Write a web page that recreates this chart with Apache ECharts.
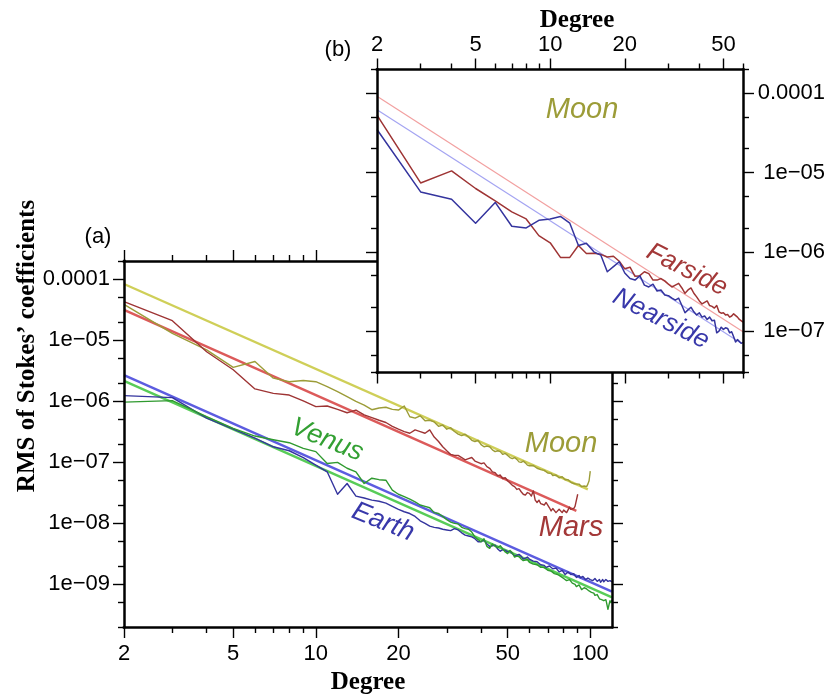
<!DOCTYPE html>
<html><head><meta charset="utf-8">
<script src="https://cdn.jsdelivr.net/npm/echarts@6/dist/echarts.min.js"></script>
<style>html,body{margin:0;padding:0;background:#fff}#c{width:829px;height:695px}</style>
</head><body><div id="c"></div>
<script>
// spherical-harmonic degrees (integer categories) for each curve
function degreeList(first, last) { const r = []; for (let d = first; d <= last; d++) r.push(d); return r; }

// ---------------- data: panel (a) ----------------
const moonDeg = degreeList(2, 100);
const moonVal = [3.9e-5,1.3e-5,7.0e-6,3.6e-6,4.5e-6,2.4e-6,2.1e-6,2.2e-6,2.1e-6,1.75e-6,1.45e-6,1.2e-6,1.0e-6,8.7e-7,7.3e-7,7.8e-7,8.0e-7,7.4e-7,7.2e-7,8.4e-7,5.6e-7,5.3e-7,5.8e-7,4.8e-7,4.9e-7,4.6e-7,3.9e-7,4.1e-7,3.5e-7,
  3.7e-7,3.2e-7,2.9e-7,2.75e-7,2.9e-7,2.6e-7,2.3e-7,2.2e-7,2.3e-7,1.95e-7,
  1.8e-7,1.85e-7,1.8e-7,1.6e-7,1.5e-7,1.55e-7,1.5e-7,1.35e-7,1.4e-7,1.3e-7,
  1.2e-7,1.15e-7,1.2e-7,1.12e-7,1.02e-7,1.0e-7,1.05e-7,9.8e-8,9.0e-8,8.8e-8,
  8.4e-8,8.9e-8,8.4e-8,8.0e-8,7.9e-8,7.6e-8,7.2e-8,7.4e-8,7.1e-8,6.7e-8,
  6.9e-8,6.6e-8,6.1e-8,6.0e-8,6.2e-8,6.1e-8,5.6e-8,5.5e-8,5.8e-8,5.5e-8,
  5.2e-8,5.0e-8,5.2e-8,4.9e-8,4.7e-8,4.5e-8,4.5e-8,4.6e-8,4.4e-8,4.2e-8,
  4.4e-8,4.3e-8,4.0e-8,3.8e-8,4.1e-8,4.2e-8,4.0e-8,4.4e-8,5.0e-8,7.2e-8];

const marsDeg = degreeList(2, 90);
const marsVal = [4.3e-5,2.1e-5,6.5e-6,3.3e-6,1.6e-6,1.35e-6,1.27e-6,1.02e-6,8.2e-7,8.4e-7,7.4e-7,6.5e-7,7.2e-7,6.0e-7,5.4e-7,4.9e-7,4.5e-7,3.9e-7,3.5e-7,3.2e-7,3.0e-7,3.4e-7,3.2e-7,3.0e-7,3.4e-7,2.6e-7,2.2e-7,1.8e-7,1.55e-7,
  1.35e-7,1.3e-7,1.3e-7,1.2e-7,1.1e-7,1.15e-7,1.2e-7,1.05e-7,1.0e-7,9.5e-8,
  9.8e-8,8.5e-8,8.0e-8,7.0e-8,6.8e-8,6.0e-8,6.2e-8,5.4e-8,5.6e-8,5.0e-8,
  4.6e-8,4.2e-8,4.0e-8,3.6e-8,3.7e-8,3.3e-8,3.0e-8,2.9e-8,3.2e-8,3.1e-8,
  2.8e-8,3.4e-8,2.4e-8,2.2e-8,2.4e-8,2.1e-8,2.0e-8,2.0e-8,2.2e-8,2.1e-8,
  1.8e-8,1.6e-8,1.75e-8,1.7e-8,1.5e-8,1.55e-8,1.7e-8,1.8e-8,1.5e-8,1.65e-8,
  1.75e-8,1.5e-8,1.55e-8,1.85e-8,1.7e-8,1.6e-8,1.75e-8,1.9e-8,2.0e-8,3.0e-8];

const earthDeg = degreeList(2, 120);
const earthVal = [1.24e-6,1.15e-6,5.3e-7,3.5e-7,2.5e-7,1.8e-7,1.55e-7,1.2e-7,9.0e-8,7.0e-8,3.0e-8,4.5e-8,2.8e-8,2.6e-8,2.4e-8,2.3e-8,2.15e-8,1.9e-8,1.7e-8,1.55e-8,1.45e-8,1.3e-8,1.1e-8,1.0e-8,9.0e-9,8.6e-9,8.4e-9,8.0e-9,7.8e-9,
  7.6e-9,8.2e-9,7.8e-9,7.0e-9,6.4e-9,6.2e-9,6.0e-9,5.6e-9,5.0e-9,5.0e-9,
  5.3e-9,4.6e-9,4.2e-9,4.3e-9,4.4e-9,3.8e-9,3.5e-9,3.7e-9,3.6e-9,3.4e-9,
  3.5e-9,3.2e-9,2.9e-9,3.0e-9,3.1e-9,2.9e-9,2.6e-9,2.7e-9,2.8e-9,2.6e-9,
  2.45e-9,2.4e-9,2.25e-9,2.35e-9,2.3e-9,2.1e-9,2.15e-9,2.05e-9,1.9e-9,1.95e-9,
  2.0e-9,1.9e-9,1.8e-9,1.75e-9,1.85e-9,1.75e-9,1.6e-9,1.65e-9,1.7e-9,1.6e-9,
  1.45e-9,1.5e-9,1.6e-9,1.55e-9,1.45e-9,1.4e-9,1.5e-9,1.45e-9,1.3e-9,1.35e-9,
  1.4e-9,1.28e-9,1.25e-9,1.35e-9,1.3e-9,1.2e-9,1.18e-9,1.27e-9,1.3e-9,1.2e-9,
  1.22e-9,1.15e-9,1.1e-9,1.25e-9,1.18e-9,1.12e-9,1.2e-9,1.2e-9,1.08e-9,1.15e-9,
  1.2e-9,1.1e-9,1.1e-9,1.2e-9,1.15e-9,1.12e-9,1.2e-9,1.15e-9,1.12e-9,1.1e-9];

const venusDeg = degreeList(2, 120);
const venusVal = [9.7e-7,1.03e-6,5.6e-7,3.6e-7,2.7e-7,2.35e-7,2.1e-7,1.7e-7,1.5e-7,9.6e-8,1.0e-7,8.0e-8,7.0e-8,4.5e-8,5.5e-8,5.2e-8,5.1e-8,3.5e-8,3.0e-8,2.75e-8,2.5e-8,2.25e-8,2.0e-8,1.9e-8,1.8e-8,1.5e-8,1.45e-8,1.3e-8,1.15e-8,
  1.05e-8,1.0e-8,9.8e-9,8.6e-9,8.2e-9,8.0e-9,7.2e-9,6.0e-9,5.4e-9,5.0e-9,
  5.6e-9,4.2e-9,3.9e-9,4.6e-9,4.2e-9,4.0e-9,4.3e-9,3.8e-9,3.4e-9,3.2e-9,
  3.6e-9,3.3e-9,2.8e-9,2.9e-9,2.85e-9,2.6e-9,2.45e-9,2.5e-9,2.6e-9,2.3e-9,
  2.35e-9,2.15e-9,2.0e-9,2.1e-9,2.05e-9,1.9e-9,1.8e-9,1.9e-9,1.85e-9,1.7e-9,
  1.6e-9,1.65e-9,1.7e-9,1.5e-9,1.4e-9,1.45e-9,1.45e-9,1.35e-9,1.3e-9,1.25e-9,
  1.3e-9,1.15e-9,1.1e-9,1.2e-9,1.12e-9,1.05e-9,1.05e-9,1.0e-9,9.2e-10,9.6e-10,
  9.8e-10,9.0e-10,8.2e-10,8.5e-10,8.8e-10,9.0e-10,8.4e-10,7.9e-10,7.8e-10,7.6e-10,
  7.4e-10,7.1e-10,7.2e-10,6.6e-10,6.2e-10,6.8e-10,6.4e-10,5.8e-10,6.0e-10,5.6e-10,
  5.2e-10,5.4e-10,5.8e-10,5.6e-10,5.2e-10,3.9e-10,4.6e-10,5.4e-10,5.0e-10,5.6e-10];

// power-law fits (end points)
const moonFitDeg = [2, 98],  moonFitVal = [8.4e-5, 3.6e-8];
const marsFitDeg = [2, 89],  marsFitVal = [3.15e-5, 1.6e-8];
const earthFitDeg = [2, 120], earthFitVal = [2.7e-6, 7.6e-10];
const venusFitDeg = [2, 120], venusFitVal = [2.16e-6, 6.1e-10];

// ---------------- data: panel (b) ----------------
const sideDeg = degreeList(2, 60);
const farVal = [5.3e-5,7.4e-6,1.05e-5,6.3e-6,4.4e-6,3.2e-6,2.6e-6,1.6e-6,1.3e-6,8.5e-7,8.5e-7,1.2e-6,9.5e-7,9.6e-7,9.3e-7,8.6e-7,8.8e-7,7.6e-7,6.1e-7,6.4e-7,4.9e-7,5.0e-7,5.6e-7,5.3e-7,4.4e-7,4.4e-7,4.6e-7,4.3e-7,3.9e-7,3.6e-7,
  3.8e-7,4.0e-7,3.5e-7,3.0e-7,3.3e-7,3.5e-7,3.0e-7,2.7e-7,2.4e-7,2.2e-7,2.3e-7,2.4e-7,2.1e-7,2.05e-7,1.95e-7,2.1e-7,1.75e-7,1.68e-7,1.7e-7,1.6e-7,1.62e-7,1.5e-7,1.55e-7,1.65e-7,1.7e-7,1.5e-7,1.4e-7,1.35e-7,1.3e-7];
const nearVal = [3.5e-5,5.7e-6,4.6e-6,2.3e-6,4.2e-6,2.1e-6,2.0e-6,2.5e-6,2.6e-6,2.8e-6,2.3e-6,1.2e-6,1.28e-6,1.0e-6,9.1e-7,5.6e-7,6.5e-7,7.5e-7,5.4e-7,4.6e-7,4.4e-7,5.0e-7,3.8e-7,3.6e-7,3.9e-7,3.2e-7,3.3e-7,2.85e-7,2.8e-7,2.6e-7,
  2.45e-7,2.6e-7,2.1e-7,1.7e-7,1.85e-7,2.0e-7,1.75e-7,1.6e-7,1.7e-7,1.5e-7,1.55e-7,1.4e-7,1.5e-7,1.35e-7,1.37e-7,9.5e-8,1.0e-7,1.12e-7,1.05e-7,1.1e-7,1.08e-7,9.5e-8,9.8e-8,8.5e-8,7.3e-8,7.8e-8,7.7e-8,7.0e-8,7.2e-8];
const farFitDeg = [2, 60],  farFitVal = [9.2e-5, 9.8e-8];
const nearFitDeg = [2, 59], nearFitVal = [6.2e-5, 7.0e-8];

// ---------------- ticks ----------------
const xTickA = [2,5,10,20,50,100];
const xMinorA = [3,4,6,7,8,9,30,40,60,70,80,90];
const yTickA = [1e-9,1e-8,1e-7,1e-6,1e-5,1e-4];
const yLabelA = ['1e\u221209','1e\u221208','1e\u221207','1e\u221206','1e\u221205','0.0001'];
const yMinorA = [2e-10,5e-10,2e-9,5e-9,2e-8,5e-8,2e-7,5e-7,2e-6,5e-6,2e-5,5e-5,2e-4];
const xTickB = [2,5,10,20,50];
const xMinorB = [3,4,6,7,8,9,30,40,60];
const yTickB = [1e-7,1e-6,1e-5,1e-4];
const yLabelB = ['1e\u221207','1e\u221206','1e\u221205','0.0001'];
const yMinorB = [3e-8,5e-8,2e-7,5e-7,2e-6,5e-6,2e-5,5e-5,2e-4];

// ---------------- chart ----------------
const chart = echarts.init(document.getElementById('c'), null, {renderer:'canvas'});
const SANS = '"Liberation Sans", Arial, Helvetica, sans-serif';
const SERIF = '"Liberation Serif", "Times New Roman", serif';

function yFmt(ticks, labels) {
  return function (v) {
    const i = ticks.findIndex(t => Math.abs(Math.log10(v) - Math.log10(t)) < 1e-6);
    return i >= 0 ? labels[i] : '';
  };
}
function xFmt(v) { return String(Math.round(v)); }

function axis(o) {
  return {
    type: 'log', logBase: 10, gridIndex: o.grid, position: o.pos, min: o.min, max: o.max, z: o.z,
    axisLine: o.line ? {show: true, onZero: false, lineStyle: {color: '#000', width: 2.5, cap: 'square'}} : {show: false, onZero: false},
    axisTick: {show: true, inside: false, length: o.len, customValues: o.ticks, lineStyle: {color: '#000', width: 1.4}},
    axisLabel: o.fmt ? {show: true, customValues: o.ticks, formatter: o.fmt, margin: o.margin, align: o.align,
      color: '#000', fontSize: 22, fontFamily: SANS} : {show: false},
    splitLine: {show: false}, minorTick: {show: false}, minorSplitLine: {show: false},
    name: o.name || '', nameLocation: 'middle', nameGap: o.nameGap || 0,
    nameTextStyle: {fontFamily: SERIF, fontWeight: 'bold', fontSize: 25, color: '#000', padding: o.namePad || 0},
    silent: true
  };
}

const AZ = 3, BZ = 12;
const xAxes = [
  axis({grid:0,pos:'bottom',min:2,max:120,z:AZ,line:true,len:11,ticks:xTickA,fmt:xFmt,margin:16,name:'Degree',nameGap:40}),
  axis({grid:0,pos:'bottom',min:2,max:120,z:AZ,line:false,len:6,ticks:xMinorA}),
  axis({grid:0,pos:'top',min:2,max:120,z:AZ,line:true,len:11,ticks:xTickA}),
  axis({grid:0,pos:'top',min:2,max:120,z:AZ,line:false,len:6,ticks:xMinorA}),
  axis({grid:1,pos:'top',min:2,max:60,z:BZ,line:true,len:11,ticks:xTickB,fmt:xFmt,margin:14,name:'Degree',nameGap:36,namePad:[0,0,0,34]}),
  axis({grid:1,pos:'top',min:2,max:60,z:BZ,line:false,len:6,ticks:xMinorB}),
  axis({grid:1,pos:'bottom',min:2,max:60,z:BZ,line:true,len:11,ticks:xTickB}),
  axis({grid:1,pos:'bottom',min:2,max:60,z:BZ,line:false,len:6,ticks:xMinorB})
];
const yAxes = [
  axis({grid:0,pos:'left',min:2e-10,max:2e-4,z:AZ,line:true,len:11,ticks:yTickA,fmt:yFmt(yTickA,yLabelA),margin:14}),
  axis({grid:0,pos:'left',min:2e-10,max:2e-4,z:AZ,line:false,len:6,ticks:yMinorA}),
  axis({grid:0,pos:'right',min:2e-10,max:2e-4,z:AZ,line:true,len:11,ticks:yTickA}),
  axis({grid:0,pos:'right',min:2e-10,max:2e-4,z:AZ,line:false,len:6,ticks:yMinorA}),
  axis({grid:1,pos:'right',min:3e-8,max:2e-4,z:BZ,line:true,len:11,ticks:yTickB,fmt:yFmt(yTickB,yLabelB),margin:82,align:'right'}),
  axis({grid:1,pos:'right',min:3e-8,max:2e-4,z:BZ,line:false,len:6,ticks:yMinorB}),
  axis({grid:1,pos:'left',min:3e-8,max:2e-4,z:BZ,line:true,len:11,ticks:yTickB}),
  axis({grid:1,pos:'left',min:3e-8,max:2e-4,z:BZ,line:false,len:6,ticks:yMinorB})
];

function line(name, deg, val, color, width, xi, yi, z) {
  return {type: 'line', name, xAxisIndex: xi, yAxisIndex: yi, z,
    data: deg.map((d, i) => [d, val[i]]), showSymbol: false, symbol: 'none',
    lineStyle: {color, width, join: 'round'}, animation: false, silent: true, clip: true};
}

const C = {
  moonData:'#9c9c38', moonFit:'#cfcf58',
  marsData:'#9e3434', marsFit:'#dc5a5a',
  earthData:'#34349e', earthFit:'#5c5ce0',
  venusData:'#2f9a2f', venusFit:'#58cc58',
  farFit:'#f2a0a0', nearFit:'#a4a4f2'
};

const series = [
  line('Moon fit', moonFitDeg, moonFitVal, C.moonFit, 2.4, 0, 0, 2),
  line('Mars fit', marsFitDeg, marsFitVal, C.marsFit, 2.4, 0, 0, 2),
  line('Earth fit', earthFitDeg, earthFitVal, C.earthFit, 2.4, 0, 0, 2),
  line('Venus fit', venusFitDeg, venusFitVal, C.venusFit, 2.4, 0, 0, 2),
  line('Moon', moonDeg, moonVal, C.moonData, 1.4, 0, 0, 2),
  line('Mars', marsDeg, marsVal, C.marsData, 1.4, 0, 0, 2),
  line('Earth', earthDeg, earthVal, C.earthData, 1.4, 0, 0, 2),
  line('Venus', venusDeg, venusVal, C.venusData, 1.4, 0, 0, 2),
  line('Farside fit', farFitDeg, farFitVal, C.farFit, 1.2, 4, 4, 11),
  line('Nearside fit', nearFitDeg, nearFitVal, C.nearFit, 1.2, 4, 4, 11),
  line('Farside', sideDeg, farVal, C.marsData, 1.5, 4, 4, 11),
  line('Nearside', sideDeg, nearVal, C.earthData, 1.5, 4, 4, 11)
];

function txt(s, x, y, color, size, opts) {
  opts = opts || {};
  return {type: 'text', x, y, rotation: opts.rot || 0, z: 100, silent: true,
    style: {text: s, fill: color, align: 'center', verticalAlign: 'middle',
      font: (opts.style || '') + ' ' + (opts.weight || '') + ' ' + size + 'px ' + (opts.family || SANS)}};
}
const deg = Math.PI / 180;

chart.setOption({
  animation: false,
  backgroundColor: '#fff',
  grid: [
    {left: 124, top: 261, width: 488, height: 366, containLabel: false, outerBoundsMode: 'none', show: false, z: 0},
    {left: 377, top: 69.5, width: 366, height: 303, containLabel: false, outerBoundsMode: 'none',
     show: true, backgroundColor: '#fff', borderWidth: 0, z: 10}
  ],
  xAxis: xAxes,
  yAxis: yAxes,
  series,
  graphic: {elements: [
    txt('(a)', 98, 237, '#000', 22),
    txt('(b)', 338, 50, '#000', 22),
    txt('RMS of Stokes\u2019 coefficients', 28, 346, '#000', 25, {rot: Math.PI / 2, weight: 'bold', family: SERIF}),
    txt('Venus', 327, 440, '#33a033', 27, {style: 'italic', rot: -22 * deg}),
    txt('Earth', 383, 522, '#3838aa', 27, {style: 'italic', rot: -22 * deg}),
    txt('Moon', 561, 444, '#9c9c38', 29, {style: 'italic'}),
    txt('Mars', 571, 528, '#a33838', 29, {style: 'italic'}),
    txt('Moon', 582, 110, '#9c9c38', 29, {style: 'italic'}),
    txt('Farside', 687, 270, '#a33838', 26, {style: 'italic', rot: -27 * deg}),
    txt('Nearside', 661, 319, '#3838aa', 26, {style: 'italic', rot: -27 * deg})
  ]}
});
</script>
</body></html>
